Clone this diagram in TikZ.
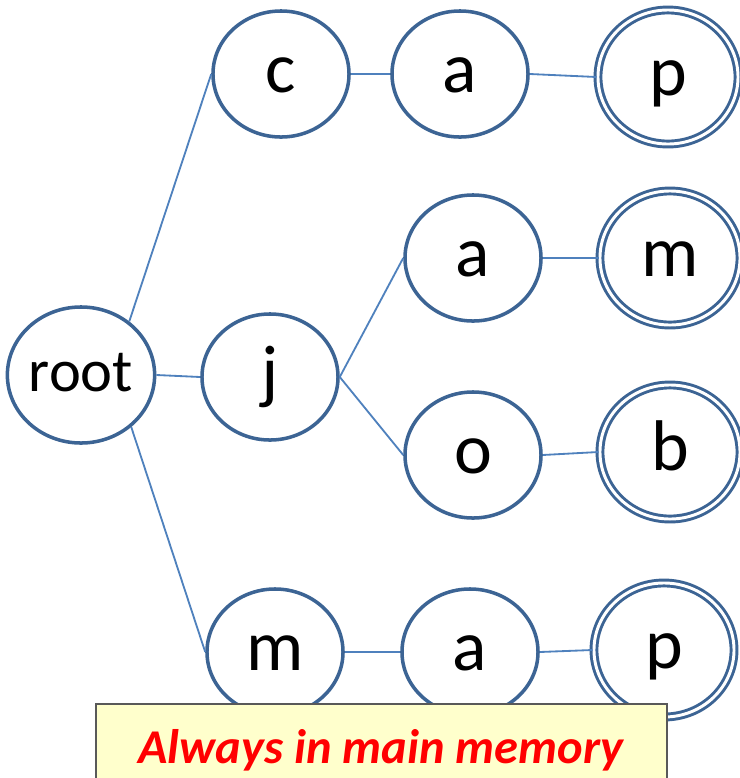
\documentclass[tikz,border=0pt]{standalone}
\usepackage{fontspec}
\setmainfont{Carlito}
\usetikzlibrary{
  positioning,
  shapes.geometric,
}
\definecolor{nodeBorder}{HTML}{3C6494}
\definecolor{edgeCol}{HTML}{4F81BD}
\definecolor{noteFill}{HTML}{FFFFCC}
\definecolor{noteBorder}{HTML}{595959}
\definecolor{noteText}{HTML}{FF0000}
\tikzset{
  trienode/.style={
    ellipse, draw=nodeBorder, fill=white, line width=2.5pt,
    minimum width=3.4cm, minimum height=3.15cm, inner sep=0pt,
    text height=27pt, text depth=0pt,
    font=\fontsize{51}{51}\selectfont,
  },
  rootnode/.style={
    trienode, minimum width=3.4cm, minimum height=3.4cm,
    text height=24pt, font=\fontsize{43}{43}\selectfont,
  },
  wordend/.style={
    trienode, line width=2.1pt, double=white, double distance=2.1pt,
    minimum width=3.5cm, minimum height=3.35cm,
  },
  trieedge/.style={edgeCol, line width=1.3pt},
  notebox/.style={fill=noteFill, draw=noteBorder, line width=1.4pt},
  notetext/.style={font=\fontsize{34.5}{34.5}\selectfont\bfseries\itshape, text=noteText, inner sep=0pt},
}

\begin{document}
\begin{tikzpicture}[x=0.025cm, y=-0.025cm]

  \clip (0, 0) rectangle (740, 778);

  % Root
  \node[rootnode] (root) at (81, 375) {root};

  % Branch c-a-p
  \node[trienode] (c)   at (281, 74) {c};
  \node[trienode] (ca)  at (460, 74) {a};
  \node[wordend]  (cap) at (668, 77) {p};

  % Branch j-a-m / j-o-b
  \node[trienode] (j)   at (270, 377) {j};
  \node[trienode] (ja)  at (473, 258) {a};
  \node[wordend]  (jam) at (670, 258) {m};
  \node[trienode] (jo)  at (473, 455) {o};
  \node[wordend]  (job) at (670, 452) {b};

  % Branch m-a-p
  \node[trienode] (m)   at (275, 652) {m};
  \node[trienode] (ma)  at (470, 652) {a};
  \node[wordend]  (map) at (664, 650) {p};

  % Edges
  \draw[trieedge] (root.48) -- (c.west);
  \draw[trieedge] (root.east) -- (j.west);
  \draw[trieedge] (root.-46) -- (m.west);
  \draw[trieedge] (c.east) -- (ca.west);
  \draw[trieedge] (ca.east) -- (cap.west);
  \draw[trieedge] (j.east) -- (ja.west);
  \draw[trieedge] (j.east) -- (jo.west);
  \draw[trieedge] (ja.east) -- (jam.west);
  \draw[trieedge] (jo.east) -- (job.west);
  \draw[trieedge] (m.east) -- (ma.west);
  \draw[trieedge] (ma.east) -- (map.west);

  % Note
  \draw[notebox] (96, 704) rectangle (667, 800);
  \node[notetext] (note) at (381, 750) {Always in main memory};

\end{tikzpicture}
\end{document}
